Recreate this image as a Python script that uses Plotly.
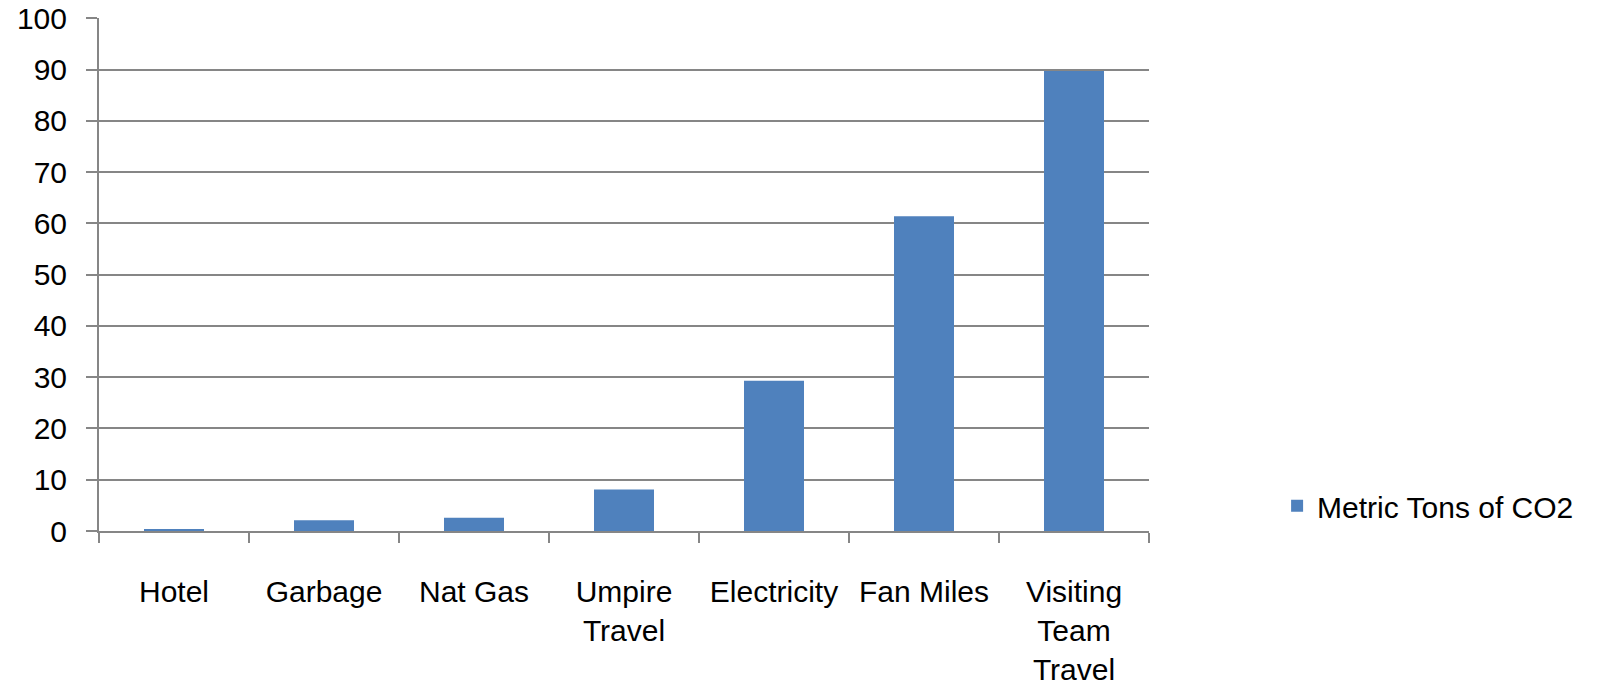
import plotly.graph_objects as go

# Emission sources and their footprint
categories = ["Hotel", "Garbage", "Nat Gas", "Umpire<br>Travel", "Electricity",
              "Fan Miles", "Visiting<br>Team<br>Travel"]
metric_tons_co2 = [0.2, 2.1, 2.6, 8.1, 29.3, 61.4, 89.7]
y_ticks = [0, 10, 20, 30, 40, 50, 60, 70, 80, 90, 100]

BAR_COLOR = "#4F81BD"
LINE_COLOR = "#868686"
FONT = "Liberation Sans, Arial, sans-serif"

fig = go.Figure(
    go.Bar(
        x=categories,
        y=metric_tons_co2,
        name="Metric Tons of CO2",
        marker=dict(color=BAR_COLOR, line=dict(width=0)),
        showlegend=True,
    )
)

fig.update_layout(
    width=1598,
    height=689,
    margin=dict(l=99, r=449, t=18, b=158),
    paper_bgcolor="white",
    plot_bgcolor="white",
    bargap=0.6,
    font=dict(family=FONT, size=30, color="black"),
    legend=dict(
        x=1.122,
        y=0.049,
        xanchor="left",
        yanchor="middle",
        font=dict(family=FONT, size=30, color="black"),
        bgcolor="rgba(0,0,0,0)",
    ),
)

fig.update_xaxes(
    type="category",
    automargin=False,
    showline=True,
    linecolor=LINE_COLOR,
    linewidth=2,
    ticks="outside",
    tickson="boundaries",
    ticklen=10,
    tickwidth=2,
    tickcolor=LINE_COLOR,
    showgrid=False,
    ticklabelstandoff=33,
    tickangle=0,
)

fig.update_yaxes(
    range=[0, 100.05],
    automargin=False,
    tickvals=y_ticks,
    ticklabeloverflow="allow",
    showline=True,
    linecolor=LINE_COLOR,
    linewidth=2,
    ticks="outside",
    ticklen=11,
    tickwidth=2,
    tickcolor=LINE_COLOR,
    showgrid=True,
    gridcolor=LINE_COLOR,
    gridwidth=2,
    zeroline=False,
    ticklabelstandoff=13,
)

fig.write_html("out.html")
